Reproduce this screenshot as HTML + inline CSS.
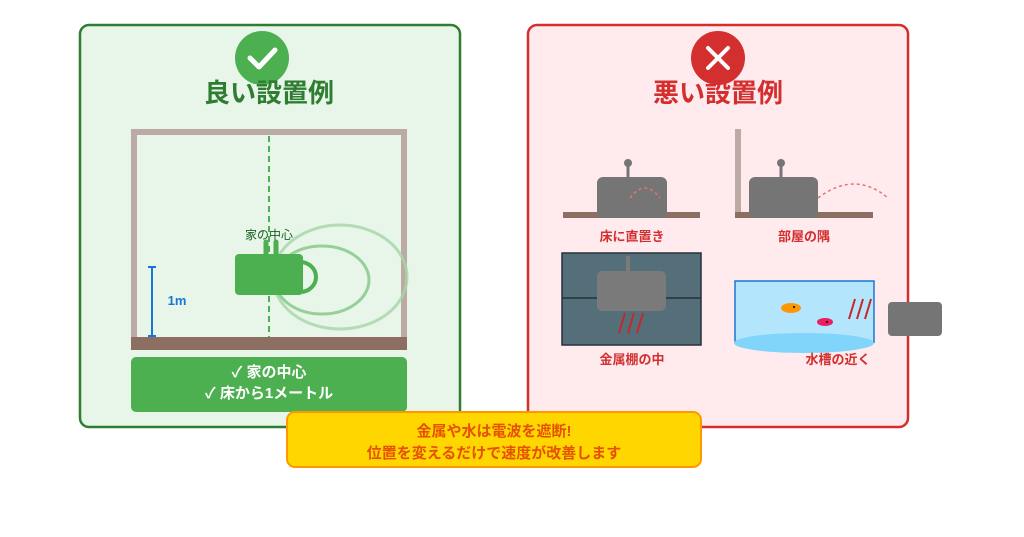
<!DOCTYPE html>
<html><head><meta charset="utf-8"><style>
html,body{margin:0;padding:0;background:#fff;}
svg{display:block;font-family:"Liberation Sans","Noto Sans CJK JP",sans-serif;}
</style></head><body>
<svg width="1024" height="537" viewBox="0 0 1024 537" xmlns="http://www.w3.org/2000/svg">
<rect width="1024" height="537" fill="#fff"/>
<!-- Left panel -->
<rect x="80" y="25" width="380" height="402" rx="9" fill="#e8f5e9" stroke="#2e7d32" stroke-width="2.5"/>
<circle cx="262" cy="58" r="27" fill="#4caf50"/>
<polyline points="250,58 259,67 275,50" fill="none" stroke="#fff" stroke-width="5" stroke-linecap="round" stroke-linejoin="round"/>
<text x="269" y="102" text-anchor="middle" font-size="26" font-weight="bold" fill="#2e7d32">良い設置例</text>
<rect x="131" y="129" width="276" height="6" fill="#bcaaa4"/>
<rect x="131" y="129" width="6" height="212" fill="#bcaaa4"/>
<rect x="401" y="129" width="6" height="212" fill="#bcaaa4"/>
<line x1="269" y1="136" x2="269" y2="337" stroke="#4caf50" stroke-width="2" stroke-dasharray="6,4"/>
<ellipse cx="340" cy="277" rx="67" ry="52" fill="none" stroke="#a5d6a7" stroke-width="3" opacity="0.8"/>
<ellipse cx="322" cy="280" rx="47" ry="34" fill="none" stroke="#81c784" stroke-width="3" opacity="0.8"/>
<path d="M300,262 A16,15 0 0 1 300,292" fill="none" stroke="#4caf50" stroke-width="4"/>
<rect x="235" y="254" width="68" height="41" rx="4" fill="#4caf50"/>
<line x1="266" y1="256" x2="266" y2="242" stroke="#4caf50" stroke-width="5" stroke-linecap="round"/>
<line x1="276" y1="256" x2="276" y2="242" stroke="#4caf50" stroke-width="5" stroke-linecap="round"/>
<text x="269" y="239" text-anchor="middle" font-size="12" fill="#1b5e20">家の中心</text>
<rect x="131" y="337" width="276" height="13" fill="#8d6e63"/>
<line x1="152" y1="267" x2="152" y2="337" stroke="#1976d2" stroke-width="2"/>
<line x1="148" y1="267" x2="156" y2="267" stroke="#1976d2" stroke-width="2"/>
<line x1="148" y1="336" x2="156" y2="336" stroke="#1976d2" stroke-width="2"/>
<text x="177" y="305" text-anchor="middle" font-size="13" font-weight="bold" fill="#1976d2">1m</text>
<rect x="131" y="357" width="276" height="55" rx="5" fill="#4caf50"/>
<text x="269" y="377" text-anchor="middle" font-size="15" font-weight="bold" fill="#fff">✓ 家の中心</text>
<text x="269" y="398" text-anchor="middle" font-size="15" font-weight="bold" fill="#fff">✓ 床から1メートル</text>

<!-- Right panel -->
<rect x="528" y="25" width="380" height="402" rx="9" fill="#ffebee" stroke="#d32f2f" stroke-width="2.5"/>
<circle cx="718" cy="58" r="27" fill="#d32f2f"/>
<line x1="708" y1="48" x2="728" y2="68" stroke="#fff" stroke-width="4" stroke-linecap="round"/>
<line x1="728" y1="48" x2="708" y2="68" stroke="#fff" stroke-width="4" stroke-linecap="round"/>
<text x="718" y="102" text-anchor="middle" font-size="26" font-weight="bold" fill="#d32f2f">悪い設置例</text>
<!-- sub1 -->
<rect x="563" y="212" width="137" height="6" fill="#8d6e63"/>
<rect x="597" y="177" width="70" height="41" rx="6" fill="#757575"/>
<line x1="628" y1="163" x2="628" y2="177" stroke="#757575" stroke-width="3"/>
<circle cx="628" cy="163" r="4" fill="#757575"/>
<path d="M630,198 Q645,178 660,198" fill="none" stroke="#e57373" stroke-width="1.5" stroke-dasharray="3,3"/>
<text x="632" y="241" text-anchor="middle" font-size="13" font-weight="bold" fill="#d32f2f">床に直置き</text>
<!-- sub2 -->
<rect x="735" y="129" width="6" height="89" fill="#bcaaa4"/>
<rect x="735" y="212" width="138" height="6" fill="#8d6e63"/>
<rect x="749" y="177" width="69" height="41" rx="6" fill="#757575"/>
<line x1="781" y1="163" x2="781" y2="177" stroke="#757575" stroke-width="3"/>
<circle cx="781" cy="163" r="4" fill="#757575"/>
<path d="M818,198 Q855,170 888,198" fill="none" stroke="#e57373" stroke-width="1.5" stroke-dasharray="3,3"/>
<text x="804" y="241" text-anchor="middle" font-size="13" font-weight="bold" fill="#d32f2f">部屋の隅</text>
<!-- sub3 -->
<rect x="562" y="253" width="139" height="92" fill="#546e7a" stroke="#263238" stroke-width="1.5"/>
<line x1="562" y1="298" x2="701" y2="298" stroke="#263238" stroke-width="1.5"/>
<line x1="628" y1="256" x2="628" y2="272" stroke="#7a7a7a" stroke-width="4"/>
<rect x="597" y="271" width="69" height="40" rx="5" fill="#7a7a7a"/>
<g stroke="#c62828" stroke-width="2"><line x1="625" y1="313" x2="619" y2="333"/><line x1="634" y1="313" x2="628" y2="333"/><line x1="643" y1="313" x2="637" y2="333"/></g>
<text x="632" y="364" text-anchor="middle" font-size="13" font-weight="bold" fill="#d32f2f">金属棚の中</text>
<!-- sub4 -->
<rect x="735" y="281" width="139" height="62" fill="#b3e5fc"/>
<polyline points="735,343 735,281 874,281 874,343" fill="none" stroke="#1976d2" stroke-width="1.5"/>
<ellipse cx="804" cy="343" rx="70" ry="10" fill="#81d4fa"/>
<ellipse cx="791" cy="308" rx="10" ry="5" fill="#ff9800"/><circle cx="794" cy="307" r="1" fill="#000"/>
<ellipse cx="825" cy="322" rx="8" ry="4" fill="#e91e63"/><circle cx="827" cy="322" r="1" fill="#000"/>
<g stroke="#c62828" stroke-width="2"><line x1="855" y1="299" x2="849" y2="319"/><line x1="863" y1="299" x2="857" y2="319"/><line x1="871" y1="299" x2="865" y2="319"/></g>
<rect x="888" y="302" width="54" height="34" rx="4" fill="#757575"/>
<text x="838" y="364" text-anchor="middle" font-size="13" font-weight="bold" fill="#d32f2f">水槽の近く</text>

<!-- Banner -->
<rect x="287" y="412" width="414" height="55" rx="8" fill="#ffd600" stroke="#ff9800" stroke-width="2"/>
<text x="494" y="436" text-anchor="middle" font-size="15" font-weight="bold" fill="#e65100">金属や水は電波を遮断!</text>
<text x="494" y="458" text-anchor="middle" font-size="15" font-weight="bold" fill="#e65100">位置を変えるだけで速度が改善します</text>
</svg>
</body></html>
